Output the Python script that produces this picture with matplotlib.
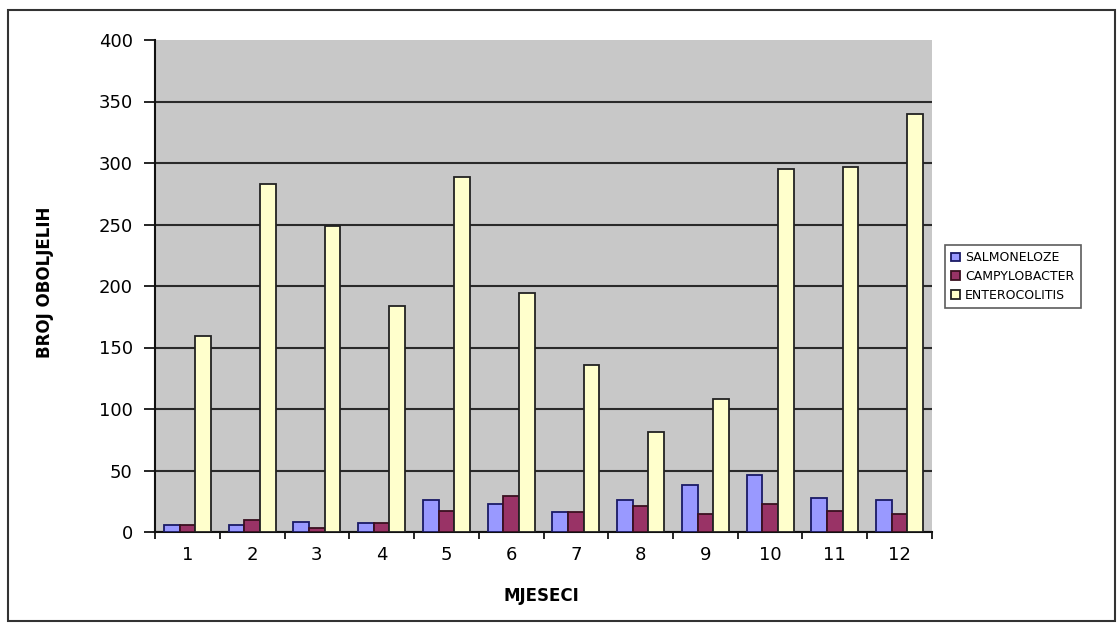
import matplotlib
matplotlib.use('Agg')
from matplotlib import pyplot as plt
from matplotlib.patches import Rectangle
import numpy as np

plt.rcParams['font.family'] = ['DejaVu Sans']

months = ['1', '2', '3', '4', '5', '6', '7', '8', '9', '10', '11', '12']
salmoneloze = [6, 6, 8, 7, 26, 23, 16, 26, 38, 46, 28, 26]
campylobacter = [6, 10, 3, 7, 17, 29, 16, 21, 15, 23, 17, 15]
enterocolitis = [159, 283, 249, 184, 289, 194, 136, 81, 108, 295, 297, 340]

series = [
    ('SALMONELOZE', salmoneloze, '#9999FF', '#1a1a66'),
    ('CAMPYLOBACTER', campylobacter, '#993366', '#3a1020'),
    ('ENTEROCOLITIS', enterocolitis, '#FFFFCC', '#222222'),
]

W, H = 1117, 623
fig = plt.figure(figsize=(W / 100, H / 100), dpi=100)
ax = fig.add_axes([155 / W, 1 - 532 / H, 777 / W, 492 / H])

x = np.arange(len(months))
w = 0.242
for i, (name, vals, fc, ec) in enumerate(series):
    ax.bar(x + (i - 1) * w, vals, width=w, color=fc, edgecolor=ec,
           linewidth=1.3, label=name, zorder=3)

ax.set_facecolor('#C8C8C8')
ax.set_xlim(-0.5, len(months) - 0.5)
ax.set_ylim(0, 400)
ax.set_yticks(range(0, 401, 50))
ax.yaxis.grid(True, color='#2a2a2a', linewidth=1.5, zorder=1)
ax.set_axisbelow(True)
# no dark line along the top edge of the plot area
ax.get_ygridlines()[-1].set_visible(False)

# tick marks sit between the months, labels in the middle
ax.set_xticks(np.arange(-0.5, len(months), 1))
ax.set_xticklabels([])
ax.set_xticks(x, minor=True)
ax.set_xticklabels(months, minor=True, fontsize=13)
ax.tick_params(axis='x', which='minor', length=0, pad=10)
ax.tick_params(axis='x', which='major', length=5, width=1.2, direction='out')
ax.tick_params(axis='y', length=8, width=1.2, labelsize=13, pad=8)

for side in ['top', 'right']:
    ax.spines[side].set_visible(False)
for side in ['left', 'bottom']:
    ax.spines[side].set_linewidth(1.5)
    ax.spines[side].set_color('#111111')

fig.text(541 / W, 1 - 596 / H, 'MJESECI', fontsize=12, fontweight='bold',
         ha='center', va='center')
fig.text(45 / W, 1 - 282 / H, 'BROJ OBOLJELIH', fontsize=12,
         fontweight='bold', rotation=90, ha='center', va='center')

leg = fig.legend(loc='upper left', bbox_to_anchor=(945 / W, 1 - 245 / H),
                 fontsize=9, frameon=True, fancybox=False,
                 edgecolor='#333333', handlelength=0.7, handleheight=0.7,
                 handletextpad=0.4, borderpad=0.5, labelspacing=0.45,
                 borderaxespad=0)
leg.get_frame().set_linewidth(1.2)

# frame around the whole chart
fig.patches.append(Rectangle((8 / W, 2 / H), 1107 / W, 611 / H,
                             transform=fig.transFigure, fill=False,
                             edgecolor='#333333', linewidth=1.5))

fig.savefig('out.png', dpi=100)
